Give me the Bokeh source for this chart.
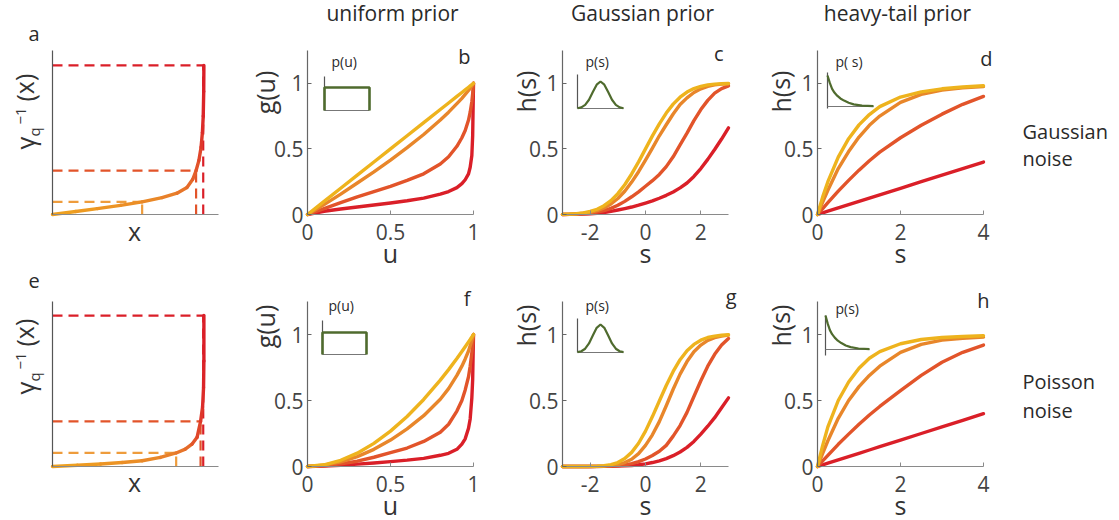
from bokeh.plotting import figure
from bokeh.models import Range1d, FixedTicker, Label, LinearAxis, CustomJSTickFormatter
from bokeh.embed import file_html
from bokeh.resources import INLINE

FONT = "Open Sans"
YELLOW = "#EEB31D"
ORANGE = "#E8862A"
REDOR = "#E2542A"
RED = "#DA1F28"
GREEN = "#4F6B2E"
ORANGE_DASH = "#EE9C3C"

# ---------------- data ----------------
# panel a / e : gamma_q^{-1}(x) curves
a_x = [0.0, 0.14, 0.27, 0.41, 0.54, 0.66, 0.75, 0.81, 0.845, 0.865, 0.882, 0.895, 0.903, 0.908, 0.911, 0.912]
a_y = [0.0, 0.018, 0.036, 0.056, 0.077, 0.103, 0.13, 0.165, 0.215, 0.268, 0.33, 0.41, 0.5, 0.6, 0.75, 0.909]
a_seg_colors = ["#EEA020", "#ED9A22", "#EC9424", "#EB8E26", "#E98828", "#E8802A", "#E7762A", "#E56A2A",
                "#E45E2A", "#E2542A", "#E0462A", "#DE382A", "#DC2C29", "#DB2428", "#DA1F28"]
a_level_x = [0.54, 0.865, 0.908]
a_level_y = [0.077, 0.268, 0.909]

e_x = [0.0, 0.15, 0.29, 0.42, 0.54, 0.65, 0.745, 0.8, 0.84, 0.871, 0.892, 0.904, 0.91, 0.912, 0.912]
e_y = [0.0, 0.008, 0.015, 0.024, 0.035, 0.055, 0.082, 0.105, 0.135, 0.177, 0.273, 0.36, 0.48, 0.64, 0.915]
e_seg_colors = ["#EEA020", "#ED9A22", "#EC9424", "#EB8E26", "#E98828", "#E8802A", "#E7762A", "#E56A2A",
                "#E2542A", "#E0462A", "#DE382A", "#DC2C29", "#DB2428", "#DA1F28"]
e_level_x = [0.745, 0.892, 0.908]
e_level_y = [0.082, 0.273, 0.915]
level_colors = [ORANGE_DASH, REDOR, RED]

# uniform prior panels (b: Gaussian noise, f: Poisson noise)
u_grid = [0, 0.1, 0.2, 0.3, 0.4, 0.5, 0.6, 0.7, 0.8, 0.85, 0.9, 0.93, 0.95, 0.97, 0.98, 0.99, 0.995, 1.0]
b_yellow = [0, 0.1, 0.2, 0.3, 0.4, 0.5, 0.6, 0.7, 0.8, 0.85, 0.9, 0.93, 0.95, 0.97, 0.98, 0.99, 0.995, 1.0]
b_orange = [0, 0.075, 0.155, 0.24, 0.325, 0.415, 0.51, 0.61, 0.72, 0.78, 0.845, 0.885, 0.915, 0.945, 0.963, 0.98, 0.99, 1.0]
b_redor = [0, 0.045, 0.09, 0.135, 0.175, 0.215, 0.26, 0.31, 0.385, 0.44, 0.52, 0.585, 0.64, 0.72, 0.78, 0.86, 0.92, 1.0]
b_red = [0, 0.025, 0.042, 0.057, 0.072, 0.088, 0.105, 0.125, 0.155, 0.175, 0.205, 0.235, 0.265, 0.31, 0.36, 0.45, 0.6, 1.0]
f_yellow = [0, 0.013, 0.047, 0.101, 0.175, 0.268, 0.379, 0.508, 0.654, 0.734, 0.818, 0.871, 0.907, 0.944, 0.962, 0.981, 0.99, 1.0]
f_orange = [0, 0.01, 0.035, 0.075, 0.13, 0.2, 0.285, 0.385, 0.51, 0.59, 0.69, 0.76, 0.815, 0.875, 0.915, 0.955, 0.977, 1.0]
f_redor = [0, 0.005, 0.02, 0.04, 0.07, 0.105, 0.14, 0.19, 0.26, 0.32, 0.42, 0.5, 0.58, 0.68, 0.76, 0.86, 0.92, 1.0]
f_red = [0, 0.003, 0.01, 0.018, 0.027, 0.037, 0.048, 0.062, 0.085, 0.1, 0.13, 0.17, 0.21, 0.29, 0.36, 0.52, 0.66, 1.0]

# Gaussian prior panels (c, g)
s_gauss = [-3, -2.75, -2.5, -2.25, -2, -1.75, -1.5, -1.25, -1, -0.75, -0.5, -0.25, 0,
           0.25, 0.5, 0.75, 1, 1.25, 1.5, 1.75, 2, 2.25, 2.5, 2.75, 3]
c_yellow = [0.001, 0.003, 0.006, 0.012, 0.023, 0.040, 0.067, 0.106, 0.159, 0.227, 0.309, 0.401, 0.5,
            0.599, 0.691, 0.773, 0.841, 0.894, 0.933, 0.960, 0.977, 0.988, 0.994, 0.997, 0.999]
c_orange = [0.001, 0.002, 0.005, 0.009, 0.017, 0.03, 0.05, 0.08, 0.122, 0.177, 0.247, 0.326, 0.415,
            0.506, 0.6, 0.684, 0.766, 0.838, 0.889, 0.93, 0.958, 0.977, 0.988, 0.994, 0.997]
c_redor = [0.0005, 0.001, 0.003, 0.005, 0.01, 0.018, 0.03, 0.047, 0.07, 0.1, 0.135, 0.173, 0.215,
           0.258, 0.305, 0.365, 0.44, 0.53, 0.62, 0.715, 0.8, 0.87, 0.925, 0.96, 0.98]
c_red = [0.0, 0.001, 0.002, 0.004, 0.006, 0.01, 0.015, 0.024, 0.034, 0.045, 0.057, 0.071, 0.087,
         0.104, 0.124, 0.146, 0.172, 0.203, 0.24, 0.29, 0.35, 0.42, 0.495, 0.575, 0.66]
g_yellow = [0, 0, 0.0001, 0.0002, 0.0008, 0.0022, 0.0059, 0.014, 0.030, 0.060, 0.107, 0.176, 0.268,
            0.378, 0.496, 0.614, 0.72, 0.809, 0.877, 0.925, 0.957, 0.977, 0.988, 0.994, 0.998]
g_orange = [0, 0, 0, 0.0001, 0.0004, 0.001, 0.003, 0.007, 0.015, 0.03, 0.055, 0.098, 0.16,
            0.24, 0.34, 0.46, 0.585, 0.7, 0.795, 0.87, 0.92, 0.955, 0.976, 0.988, 0.995]
g_redor = [0, 0, 0, 0, 0.0002, 0.0005, 0.001, 0.003, 0.006, 0.012, 0.022, 0.037, 0.057,
           0.083, 0.115, 0.16, 0.23, 0.31, 0.41, 0.53, 0.65, 0.76, 0.85, 0.92, 0.97]
g_red = [0, 0, 0, 0, 0.0003, 0.0006, 0.001, 0.002, 0.003, 0.005, 0.008, 0.013, 0.02,
         0.03, 0.043, 0.06, 0.082, 0.11, 0.145, 0.19, 0.245, 0.305, 0.37, 0.445, 0.52]

# heavy-tail prior panels (d, h)
s_heavy = [0, 0.125, 0.25, 0.5, 0.75, 1, 1.25, 1.5, 2, 2.5, 3, 3.5, 4]
d_yellow = [0, 0.134, 0.25, 0.437, 0.578, 0.683, 0.762, 0.822, 0.895, 0.935, 0.958, 0.972, 0.981]
d_orange = [0, 0.095, 0.185, 0.35, 0.48, 0.59, 0.68, 0.75, 0.855, 0.915, 0.948, 0.965, 0.975]
d_redor = [0, 0.045, 0.09, 0.178, 0.26, 0.338, 0.41, 0.475, 0.585, 0.68, 0.765, 0.84, 0.9]
d_red = [0, 0.0125, 0.025, 0.05, 0.075, 0.1, 0.125, 0.15, 0.2, 0.25, 0.3, 0.35, 0.4]
h_yellow = [0, 0.16, 0.3, 0.5, 0.64, 0.745, 0.82, 0.87, 0.93, 0.962, 0.977, 0.985, 0.99]
h_orange = [0, 0.1, 0.195, 0.365, 0.5, 0.605, 0.69, 0.76, 0.865, 0.925, 0.957, 0.972, 0.98]
h_redor = [0, 0.042, 0.085, 0.168, 0.245, 0.32, 0.39, 0.455, 0.575, 0.69, 0.79, 0.865, 0.92]
h_red = [0, 0.0125, 0.025, 0.05, 0.075, 0.1, 0.125, 0.15, 0.2, 0.25, 0.3, 0.35, 0.4]

# inset prior shapes (normalized to the inset box)
uni_px = [0, 0, 1, 1]
uni_py = [0, 1, 1, 0]
gau_px = [0, 0.083, 0.167, 0.25, 0.333, 0.417, 0.5, 0.583, 0.667, 0.75, 0.833, 0.917, 1.0]
gau_py = [0.011, 0.044, 0.135, 0.325, 0.607, 0.882, 1.0, 0.882, 0.607, 0.325, 0.135, 0.044, 0.011]
ht_px = [0, 0.05, 0.1, 0.15, 0.21, 0.28, 0.36, 0.46, 0.57, 0.75, 1.0]
ht_py = [1.0, 0.76, 0.57, 0.45, 0.35, 0.26, 0.19, 0.12, 0.07, 0.03, 0.01]

titles = ["uniform prior", "Gaussian prior", "heavy-tail prior"]
noise_labels = [["Gaussian", "noise"], ["Poisson", "noise"]]
panel_letters = [["a", "b", "c", "d"], ["e", "f", "g", "h"]]

# ---------------- page geometry (pixels from top-left) ----------------
W, H = 1119, 520
FRAME_L = [52, 307, 562, 817]
FRAME_W = 166
FRAME_T = [50, 301]
FRAME_H = [164, 165]
XAX = "#8a8a8a"
YAX = "#666666"
TXT = "#2a2a2a"
LAB = "#333333"

p = figure(width=W, height=H, x_range=Range1d(0, W), y_range=Range1d(0, H),
           min_border=0, x_axis_type=None, y_axis_type=None,
           output_backend="svg", toolbar_location=None, title=None)
p.outline_line_color = None
p.xgrid.visible = False
p.ygrid.visible = False


def add_ranges(name, X0, X1, v0, v1, Y0, Y1, w0, w1):
    """Range whose value v0 sits at page X0, v1 at X1; w0 at page Y0, w1 at Y1."""
    kx = (v1 - v0) / (X1 - X0)
    ky = (w1 - w0) / (Y0 - Y1)
    p.extra_x_ranges[name] = Range1d(v0 - X0 * kx, v0 + (W - X0) * kx)
    p.extra_y_ranges[name] = Range1d(w0 - (H - Y0) * ky, w0 + Y0 * ky)


def txt(X, Y, text, size, color=TXT, align="left", baseline="alphabetic", angle=0.0):
    # compensate the renderer's baseline placement
    if baseline == "alphabetic":
        off = 0.36 * size
    else:
        off = 0.16 * size
    if angle:
        X -= off
    else:
        Y -= off
    p.add_layout(Label(x=X, y=H - Y, text=text, text_font=FONT, text_font_size=f"{size}px",
                       text_color=color, text_align=align, text_baseline=baseline, angle=angle))


def axes(name, xb, yb, xticks, yticks, ycol=YAX, show_ticks=True):
    fmt = CustomJSTickFormatter(code="return tick.toString();")
    xa = LinearAxis(x_range_name=name, y_range_name=name, fixed_location=yb[0], bounds=xb)
    ya = LinearAxis(x_range_name=name, y_range_name=name, fixed_location=xb[0], bounds=yb)
    for ax, ticks, col, so in ((xa, xticks, XAX, 9), (ya, yticks, ycol, 4)):
        ax.ticker = FixedTicker(ticks=ticks)
        ax.formatter = fmt
        ax.axis_line_color = col
        ax.axis_line_width = 1.2
        ax.major_tick_line_color = col if show_ticks else None
        ax.major_tick_in = 4
        ax.major_tick_out = 0
        ax.minor_tick_line_color = None
        ax.major_label_text_font = FONT
        ax.major_label_text_font_size = "21px"
        ax.major_label_text_color = "#444444" if show_ticks else None
        ax.major_label_standoff = so
    p.add_layout(xa, "below")
    p.add_layout(ya, "left")


def inset(name, X0, X1, Ybase, Ytop, Yp1, xs, ys, ext=0, lw=2.2):
    add_ranges(name, X0, X1, 0, 1, Ybase, Yp1, 0, 1)
    top = (Ybase - Ytop) / (Ybase - Yp1)
    bot = -ext / (Ybase - Yp1)
    p.line([0, 0], [bot, top], x_range_name=name, y_range_name=name, line_color="#555555", line_width=1.2)
    p.line([0, 1], [0, 0], x_range_name=name, y_range_name=name, line_color="#777777", line_width=1.2)
    p.line(xs, ys, x_range_name=name, y_range_name=name, line_color=GREEN, line_width=lw)


def curves(name, xs, series):
    for ys, col in zip(series, [RED, REDOR, ORANGE, YELLOW]):
        p.line(xs, ys, x_range_name=name, y_range_name=name, line_color=col,
               line_width=3.4, line_cap="round", line_join="round")


for r in range(2):
    ft, fh = FRAME_T[r], FRAME_H[r]
    fb = ft + fh
    sh = ft - FRAME_T[0]

    # ---- panel a / e ----
    nm = f"a{r}"
    add_ranges(nm, FRAME_L[0], FRAME_L[0] + FRAME_W, 0, 1, fb, ft, 0, 1)
    axes(nm, (0, 1), (0, 1), [], [], ycol="#555555", show_ticks=False)
    xs, ys, segc, lx, ly = ((a_x, a_y, a_seg_colors, a_level_x, a_level_y) if r == 0 else
                            (e_x, e_y, e_seg_colors, e_level_x, e_level_y))
    for xv, yv, col in zip(lx, ly, level_colors):
        p.segment(x0=[0], y0=[yv], x1=[xv], y1=[yv], x_range_name=nm, y_range_name=nm,
                  line_color=col, line_width=2.2, line_dash="10 6")
        p.segment(x0=[xv], y0=[0], x1=[xv], y1=[yv], x_range_name=nm, y_range_name=nm,
                  line_color=col, line_width=2.2, line_dash="10 6")
    p.segment(x0=xs[:-1], y0=ys[:-1], x1=xs[1:], y1=ys[1:], x_range_name=nm, y_range_name=nm,
              line_color=segc, line_width=3.4, line_cap="round")
    yb = 149 + (0 if r == 0 else 245)
    txt(33, yb, "γ", 25, color=LAB, angle=1.5708)
    txt(39, yb - 13, "q", 15, color=LAB, angle=1.5708)
    txt(26, yb - 25, "−1", 15, color=LAB, angle=1.5708)
    txt(33, yb - 48, "(x)", 25, color=LAB, angle=1.5708)
    txt(134, 239 if r == 0 else 490, "x", 25, color=LAB, align="center")
    txt(28, 40 if r == 0 else 288, panel_letters[r][0], 20)

    # ---- uniform prior ----
    nm = f"b{r}"
    add_ranges(nm, FRAME_L[1], FRAME_L[1] + FRAME_W, 0, 1, fb, ft, 0, 1.25)
    axes(nm, (0, 1), (0, 1.25), [0, 0.5, 1], [0, 0.5, 1])
    if r == 0:
        inset(f"ib{r}", 324, 369, 110, 76, 87, uni_px, uni_py, lw=2.6)
        txt(331, 66, "p(u)", 14)
        curves(nm, u_grid, [b_red, b_redor, b_orange, b_yellow])
        txt(470, 63, panel_letters[r][1], 20, align="right")
    else:
        inset(f"ib{r}", 322, 366, 354, 320, 332, uni_px, uni_py, lw=2.6)
        txt(328, 310, "p(u)", 14)
        curves(nm, u_grid, [f_red, f_redor, f_orange, f_yellow])
        txt(470, 305, panel_letters[r][1], 20, align="right")
    txt(268, 92 if r == 0 else 326, "g(u)", 25, color=LAB, align="center", baseline="middle", angle=1.5708)
    txt(390, 261 if r == 0 else 513, "u", 25, color=LAB, align="center")

    # ---- Gaussian prior ----
    nm = f"c{r}"
    add_ranges(nm, FRAME_L[2], FRAME_L[2] + FRAME_W, -3, 3, fb, ft, 0, 1.25)
    axes(nm, (-3, 3), (0, 1.25), [-2, 0, 2], [0, 0.5, 1])
    if r == 0:
        inset(f"ic{r}", 577, 623, 108, 74, 81, gau_px, gau_py)
        txt(585, 66, "p(s)", 14)
        curves(nm, s_gauss, [c_red, c_redor, c_orange, c_yellow])
        txt(723, 60, panel_letters[r][2], 20, align="right")
    else:
        inset(f"ic{r}", 577, 623, 352, 318, 324, gau_px, gau_py)
        txt(585, 310, "p(s)", 14)
        curves(nm, s_gauss, [g_red, g_redor, g_orange, g_yellow])
        txt(736, 303, panel_letters[r][2], 20, align="right")
    txt(529, 91 if r == 0 else 325, "h(s)", 25, color=LAB, align="center", baseline="middle", angle=1.5708)
    txt(645, 261 if r == 0 else 513, "s", 25, color=LAB, align="center")

    # ---- heavy-tail prior ----
    nm = f"d{r}"
    add_ranges(nm, FRAME_L[3], FRAME_L[3] + FRAME_W, 0, 4, fb, ft, 0, 1.25)
    axes(nm, (0, 4), (0, 1.25), [0, 2, 4], [0, 0.5, 1])
    if r == 0:
        inset(f"id{r}", 827, 873, 106, 72, 75, ht_px, ht_py, ext=2)
        txt(835, 66, "p( s)", 14)
        curves(nm, s_heavy, [d_red, d_redor, d_orange, d_yellow])
        txt(992, 65, panel_letters[r][3], 20, align="right")
    else:
        inset(f"id{r}", 825, 869, 349, 315, 315, ht_px, ht_py, ext=6)
        txt(835, 313, "p(s)", 14)
        curves(nm, s_heavy, [h_red, h_redor, h_orange, h_yellow])
        txt(989, 307, panel_letters[r][3], 20, align="right")
    txt(784, 91 if r == 0 else 325, "h(s)", 25, color=LAB, align="center", baseline="middle", angle=1.5708)
    txt(900, 261 if r == 0 else 513, "s", 25, color=LAB, align="center")

    txt(1022, 138 + sh - (0 if r == 0 else 1), noise_labels[r][0], 20)
    txt(1022, 165 + sh + (0 if r == 0 else 1), noise_labels[r][1], 20)

for X, t in zip([392, 642, 897], titles):
    txt(X, 20, t, 21, align="center")

open("out.html", "w").write(file_html(p, INLINE))
